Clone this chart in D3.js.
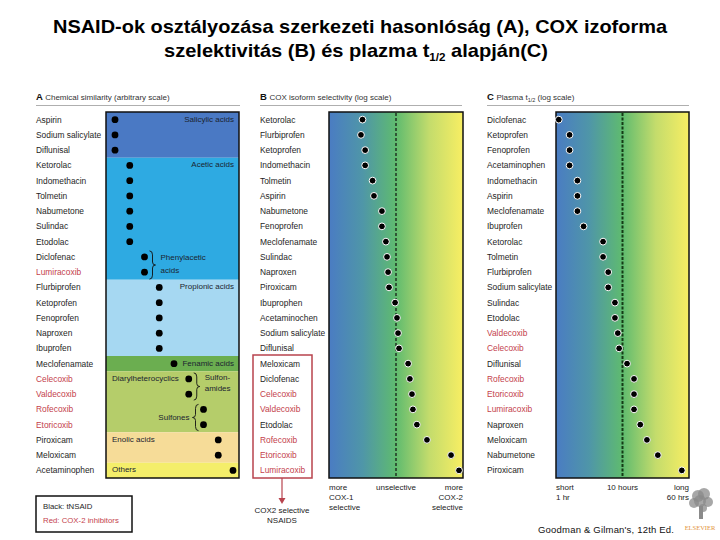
<!DOCTYPE html>
<html>
<head>
<meta charset="utf-8">
<script src="https://cdn.jsdelivr.net/npm/d3@7"></script>
<style>
  body { margin: 0; background: #fff; }
  svg { display: block; font-family: "Liberation Sans", Arial, sans-serif; }
  .lbl { font-size: 8.4px; fill: #1e1e1e; }
  .red { fill: #c4424c; }
  .grp { font-size: 8px; fill: #1b2430; }
  .ax { font-size: 8px; fill: #222; }
</style>
</head>
<body>
<div id="container"><svg></svg></div>
<script>
const W = 720, H = 540;

// red labels = COX-2 inhibitors
const cox2 = ['Celecoxib', 'Valdecoxib', 'Rofecoxib', 'Etoricoxib', 'Lumiracoxib'];

// panel A: chemical class of each drug
const chemClasses = ['Salicylic acids', 'Acetic acids', 'Phenylacetic acids', 'Propionic acids',
    'Fenamic acids', 'Diarylheterocyclics', 'Sulfones', 'Enolic acids', 'Others'];
const chemDrugs = ['Aspirin', 'Sodium salicylate', 'Diflunisal', 'Ketorolac', 'Indomethacin', 'Tolmetin',
    'Nabumetone', 'Sulindac', 'Etodolac', 'Diclofenac', 'Lumiracoxib', 'Flurbiprofen', 'Ketoprofen',
    'Fenoprofen', 'Naproxen', 'Ibuprofen', 'Meclofenamate', 'Celecoxib', 'Valdecoxib', 'Rofecoxib',
    'Etoricoxib', 'Piroxicam', 'Meloxicam', 'Acetaminophen'];
const chemClass = [0, 0, 0, 1, 1, 1, 1, 1, 1, 2, 2, 3, 3, 3, 3, 3, 4, 5, 5, 6, 6, 7, 7, 8];
// background band of each class
const classBand = [0, 1, 1, 2, 3, 4, 4, 5, 6];
const bandColors = ['#4a79c4', '#2eaae2', '#a6d8f2', '#6bae50', '#b5cd6a', '#f6dc98', '#f4ee6a'];

// panel B: COX-2 / COX-1 selectivity (log scale, 1 = unselective)
const selDrugs = ['Ketorolac', 'Flurbiprofen', 'Ketoprofen', 'Indomethacin', 'Tolmetin', 'Aspirin',
    'Nabumetone', 'Fenoprofen', 'Meclofenamate', 'Sulindac', 'Naproxen', 'Piroxicam', 'Ibuprophen',
    'Acetaminochen', 'Sodium salicylate', 'Diflunisal', 'Meloxicam', 'Diclofenac', 'Celecoxib',
    'Valdecoxib', 'Etodolac', 'Rofecoxib', 'Etoricoxib', 'Lumiracoxib'];
const selValues = [0.1, 0.09, 0.12, 0.12, 0.2, 0.22, 0.38, 0.38, 0.5, 0.54, 0.58, 0.62, 0.94,
    1.07, 1.15, 1.23, 2.3, 2.6, 3.0, 3.2, 4.2, 8.4, 44, 76];

// panel C: plasma half-life, hours (log scale)
const halfDrugs = ['Diclofenac', 'Ketoprofen', 'Fenoprofen', 'Acetaminophen', 'Indomethacin', 'Aspirin',
    'Meclofenamate', 'Ibuprofen', 'Ketorolac', 'Tolmetin', 'Flurbiprofen', 'Sodium salicylate',
    'Sulindac', 'Etodolac', 'Valdecoxib', 'Celecoxib', 'Diflunisal', 'Rofecoxib', 'Etoricoxib',
    'Lumiracoxib', 'Naproxen', 'Meloxicam', 'Nabumetone', 'Piroxicam'];
const halfValues = [1.1, 1.6, 1.6, 1.6, 2.1, 2.1, 2.1, 2.6, 5.1, 5.1, 6.1, 6.1, 7.7, 7.7, 8.5, 8.9,
    11.7, 14.9, 14.9, 14.9, 18.5, 23.3, 34, 78];

const svg = d3.select('svg').attr('width', W).attr('height', H);

// ---------- title ----------
const t1 = svg.append('text').attr('x', 360).attr('y', 33).attr('text-anchor', 'middle')
    .style('font-size', '19px').style('font-weight', 'bold')
    .attr('textLength', 614).attr('lengthAdjust', 'spacingAndGlyphs')
    .text('NSAID-ok osztályozása szerkezeti hasonlóság (A), COX izoforma');
const t2 = svg.append('text').attr('x', 356).attr('y', 57).attr('text-anchor', 'middle')
    .style('font-size', '19px').style('font-weight', 'bold')
    .attr('textLength', 384).attr('lengthAdjust', 'spacingAndGlyphs');
t2.append('tspan').text('szelektivitás (B) és plazma t');
t2.append('tspan').attr('dy', 4).style('font-size', '11px').text('1/2');
t2.append('tspan').attr('dy', -4).text(' alapján(C)');

// shared row scale
const y = d3.scaleBand().domain(d3.range(24)).range([112, 478]);
const yc = i => y(i) + y.bandwidth() / 2;
const labColor = name => cox2.includes(name) ? 'lbl red' : 'lbl';

function header(x, x2, letter, title, sub, rest) {
    const t = svg.append('text').attr('x', x).attr('y', 100).style('font-size', '8px').style('fill', '#333');
    t.append('tspan').style('font-weight', 'bold').style('font-size', '9.5px').style('fill', '#111').text(letter + '  ');
    t.append('tspan').text(title);
    if (sub) {
        t.append('tspan').attr('dy', 2).style('font-size', '5.5px').text(sub);
        t.append('tspan').attr('dy', -2).text(rest);
    }
    svg.append('line').attr('x1', x).attr('x2', x2).attr('y1', 105.5).attr('y2', 105.5)
        .attr('stroke', '#9a9a9a').attr('stroke-width', 0.8);
}

function labels(names, x) {
    svg.append('g').selectAll('text').data(names).join('text')
        .attr('class', labColor)
        .attr('x', x).attr('y', (d, i) => yc(i) + 3)
        .text(d => d);
}

function dots(g, data, xf, white) {
    g.selectAll('circle').data(data).join('circle')
        .attr('cx', xf).attr('cy', (d, i) => yc(i))
        .attr('r', 3.4).attr('fill', '#000')
        .attr('stroke', white ? '#fff' : 'none').attr('stroke-width', 1);
}

function brace(x, y1, y2, w) {
    const ym = (y1 + y2) / 2, h = w / 2;
    return `M${x},${y1} Q${x + h},${y1} ${x + h},${y1 + 4} L${x + h},${ym - 3} Q${x + h},${ym} ${x + w},${ym}` +
        ` Q${x + h},${ym} ${x + h},${ym + 3} L${x + h},${y2 - 4} Q${x + h},${y2} ${x},${y2}`;
}

// ---------- panel A ----------
header(36, 240, 'A', 'Chemical similarity (arbitrary scale)');
labels(chemDrugs, 36);
const boxA = [106, 239];
const xA = d3.scalePoint().domain(d3.range(chemClasses.length)).range([115, 233]);
const gA = svg.append('g');
const bands = d3.groups(chemClass.map((c, i) => ({band: classBand[c], i})), d => d.band);
gA.selectAll('rect.band').data(bands).join('rect').attr('class', 'band')
    .attr('x', boxA[0]).attr('width', boxA[1] - boxA[0])
    .attr('y', d => y(d[1][0].i))
    .attr('height', d => y(d[1][d[1].length - 1].i) + y.bandwidth() - y(d[1][0].i))
    .attr('fill', d => bandColors[d[0]]);
gA.append('rect').attr('x', boxA[0]).attr('y', 112).attr('width', boxA[1] - boxA[0]).attr('height', 366)
    .attr('fill', 'none').attr('stroke', '#111').attr('stroke-width', 1.5);
dots(gA, chemClass, d => xA(d), false);

// class labels in A
const firstRow = c => chemClass.indexOf(c);
[0, 1, 3, 4].forEach(c => {
    gA.append('text').attr('class', 'grp').attr('x', 234).attr('y', yc(firstRow(c)) + 2)
        .attr('text-anchor', 'end').text(chemClasses[c]);
});
[5, 7, 8].forEach(c => {
    gA.append('text').attr('class', 'grp').attr('x', 112).attr('y', yc(firstRow(c)) + 2).text(chemClasses[c]);
});
// phenylacetic brace
const ph = firstRow(2);
gA.append('path').attr('d', brace(xA(2) + 5, yc(ph) - 6, yc(ph + 1) + 7, 6))
    .attr('fill', 'none').attr('stroke', '#111').attr('stroke-width', 0.9);
gA.append('text').attr('class', 'grp').attr('x', xA(2) + 16).attr('y', yc(ph) + 3).text('Phenylacetic');
gA.append('text').attr('class', 'grp').attr('x', xA(2) + 16).attr('y', yc(ph + 1) + 1).text('acids');
// sulfonamides brace
const sa = firstRow(5);
gA.append('path').attr('d', brace(xA(5) + 5, yc(sa) - 6, yc(sa + 1) + 6, 6))
    .attr('fill', 'none').attr('stroke', '#111').attr('stroke-width', 0.9);
gA.append('text').attr('class', 'grp').attr('x', xA(5) + 16).attr('y', yc(sa) + 1).text('Sulfon-');
gA.append('text').attr('class', 'grp').attr('x', xA(5) + 16).attr('y', yc(sa + 1) - 3).text('amides');
// sulfones brace
const so = firstRow(6);
gA.append('path').attr('d', brace(xA(6) - 5, yc(so) - 5, yc(so + 1) + 6, -6))
    .attr('fill', 'none').attr('stroke', '#111').attr('stroke-width', 0.9);
gA.append('text').attr('class', 'grp').attr('x', xA(6) - 14).attr('y', (yc(so) + yc(so + 1)) / 2 + 3)
    .attr('text-anchor', 'end').text('Sulfones');

// legend
svg.append('rect').attr('x', 36).attr('y', 496).attr('width', 96).attr('height', 36)
    .attr('fill', '#fff').attr('stroke', '#111').attr('stroke-width', 1.5);
svg.append('text').attr('class', 'lbl').attr('x', 43).attr('y', 509).style('font-size', '7.8px').text('Black: tNSAID');
svg.append('text').attr('class', 'lbl red').attr('x', 43).attr('y', 523).style('font-size', '7.8px').text('Red: COX-2 inhibitors');

// gradient
const defs = svg.append('defs');
function grad(id) {
    const g = defs.append('linearGradient').attr('id', id);
    [[0, '#4a7cc3'], [0.25, '#4f96a8'], [0.5, '#5fbb6f'], [0.75, '#c4dc6c'], [1, '#f8ee63']]
        .forEach(s => g.append('stop').attr('offset', s[0]).attr('stop-color', s[1]));
}
grad('gradB');

// ---------- panel B ----------
header(260, 462, 'B', 'COX isoform selectivity (log scale)');
labels(selDrugs, 260);
const xB = d3.scaleLog().domain([0.01, 100]).range([329, 463]);
const gB = svg.append('g');
gB.append('rect').attr('x', 329).attr('y', 112).attr('width', 134).attr('height', 366)
    .attr('fill', 'url(#gradB)').attr('stroke', '#111').attr('stroke-width', 1.5);
gB.append('line').attr('x1', xB(1)).attr('x2', xB(1)).attr('y1', 113).attr('y2', 477)
    .attr('stroke', '#111').attr('stroke-width', 1.2).attr('stroke-dasharray', '3,2');
dots(gB, selValues, d => xB(d), true);
// red box for COX-2 selective
const rb = selDrugs.indexOf('Meloxicam');
gB.append('rect').attr('x', 253).attr('y', y(rb) - 1).attr('width', 59).attr('height', 478 - y(rb) + 1)
    .attr('fill', 'none').attr('stroke', '#b8434d').attr('stroke-width', 1.5);
gB.append('line').attr('x1', 282).attr('x2', 282).attr('y1', 478).attr('y2', 500)
    .attr('stroke', '#b8434d').attr('stroke-width', 1.2);
gB.append('path').attr('d', 'M278.5,498 L285.5,498 L282,504 Z').attr('fill', '#b8434d');
gB.append('text').attr('class', 'ax red').attr('x', 282).attr('y', 513).attr('text-anchor', 'middle').text('COX2 selective');
gB.append('text').attr('class', 'ax red').attr('x', 282).attr('y', 523).attr('text-anchor', 'middle').text('NSAIDS');
// axis notes
const axB = [['start', 329, ['more', 'COX-1', 'selective']], ['middle', xB(1), ['unselective']],
    ['end', 463, ['more', 'COX-2', 'selective']]];
axB.forEach(a => a[2].forEach((t, k) => gB.append('text').attr('class', 'ax')
    .attr('x', a[1]).attr('y', 490 + k * 10).attr('text-anchor', a[0]).text(t)));

// ---------- panel C ----------
header(487, 689, 'C', 'Plasma t', '1/2', ' (log scale)');
labels(halfDrugs, 487);
grad('gradC');
const xC = d3.scaleLog().domain([1, 100]).range([556, 689]);
const gC = svg.append('g');
gC.append('rect').attr('x', 556).attr('y', 112).attr('width', 133).attr('height', 366)
    .attr('fill', 'url(#gradC)').attr('stroke', '#111').attr('stroke-width', 1.5);
gC.append('line').attr('x1', xC(10)).attr('x2', xC(10)).attr('y1', 113).attr('y2', 477)
    .attr('stroke', '#153a15').attr('stroke-width', 2).attr('stroke-dasharray', '3,1.5');
dots(gC, halfValues, d => xC(d), true);
const axC = [['start', 556, ['short', '1 hr']], ['middle', xC(10), ['10 hours']], ['end', 689, ['long', '60 hrs']]];
axC.forEach(a => a[2].forEach((t, k) => gC.append('text').attr('class', 'ax')
    .attr('x', a[1]).attr('y', 490 + k * 10).attr('text-anchor', a[0]).text(t)));

// source
svg.append('text').attr('x', 538).attr('y', 533).style('font-size', '9.5px').style('fill', '#111')
    .attr('textLength', 136).attr('lengthAdjust', 'spacing').text("Goodman & Gilman's, 12th Ed.");

// publisher mark (rough)
const logo = svg.append('g').attr('fill', '#8a8a8a');
[[698, 496, 6], [704, 494, 6], [694, 503, 5], [708, 502, 5], [700, 501, 6], [703, 508, 4]]
    .forEach(c => logo.append('circle').attr('cx', c[0]).attr('cy', c[1]).attr('r', c[2]).attr('opacity', 0.75));
logo.append('rect').attr('x', 699).attr('y', 506).attr('width', 4).attr('height', 13);
svg.append('text').attr('x', 700).attr('y', 530).attr('text-anchor', 'middle')
    .style('font-size', '6.5px').style('font-family', 'Liberation Serif, serif').style('fill', '#e3933a').text('ELSEVIER');
</script>
</body>
</html>
